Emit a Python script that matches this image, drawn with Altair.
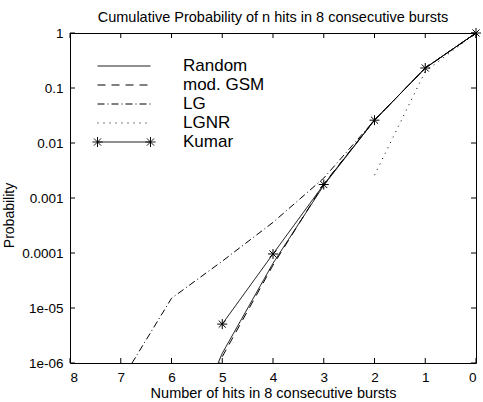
import altair as alt
import pandas as pd

# ---------------- data ----------------
hits = [0, 1, 2, 3, 4, 5, 6, 7, 8]
random_p = [1.0, 0.23, 0.026, 0.0017, 6.5e-5, 1.5e-6, 1e-8, 5e-11, 1e-13]
gsm_p = [1.0, 0.23, 0.026, 0.0018, 6.0e-5, 1.3e-6, 8e-9, 4e-11, 1e-13]
lg_p = [1.0, 0.23, 0.026, 0.0023, 3.6e-4, 7.1e-5, 1.5e-5, 4.6e-7, 1e-8]
lgnr_hits = [0, 1, 2]
lgnr_p = [1.0, 0.2, 0.0026]
kumar_hits = [0, 1, 2, 3, 4, 5]
kumar_p = [1.0, 0.231, 0.026, 0.00176, 9.6e-5, 5.1e-6]

series = ["Random", "mod. GSM", "LG", "LGNR", "Kumar"]
x_ticks = [0, 1, 2, 3, 4, 5, 6, 7, 8]
y_ticks = [1, 0.1, 0.01, 0.001, 0.0001, 1e-05, 1e-06]
y_labels = ["1", "0.1", "0.01", "0.001", "0.0001", "1e-05", "1e-06"]

title = "Cumulative Probability of n hits in 8 consecutive bursts"
x_title = "Number of hits in 8 consecutive bursts"
y_title = "Probability"

# ---------------- tables ----------------
rows = []
for name, xs, ys in [("Random", hits, random_p), ("mod. GSM", hits, gsm_p),
                     ("LG", hits, lg_p), ("LGNR", lgnr_hits, lgnr_p),
                     ("Kumar", kumar_hits, kumar_p)]:
    for xv, yv in zip(xs, ys):
        rows.append({"series": name, "hits": xv, "prob": yv})
df = pd.DataFrame(rows)
kumar_df = df[df.series == "Kumar"]
xt = pd.DataFrame({"hits": x_ticks})
yt = pd.DataFrame({"prob": y_ticks})

# ---------------- styles ----------------
FONT = "Liberation Sans"
W, H = 406, 330
dashes = [[1, 0], [8, 6], [7, 3, 1, 3], [1, 5], [1, 0]]
ast = "M{a},0H{b}M{c},-{s}V{s}M{d1},-{e}L{d2},{e}M{d1},{e}L{d2},-{e}"
def asterisk(cx, s):
    e = round(s * 0.7071, 4)
    return ast.format(a=cx - s, b=cx + s, c=cx, s=s, d1=cx - e, d2=cx + e, e=e)
plain = "M-1,0H1"
kumar_leg = plain + asterisk(-1, 0.19) + asterisk(1, 0.19)
legend_paths = [plain, plain, plain, plain, kumar_leg]
star_path = asterisk(0, 1)

label_expr = ""
for v, l in zip(y_ticks, y_labels):
    label_expr += f"datum.value >= {v / 2} ? '{l}' : "
label_expr += "''"

xscale = alt.Scale(domain=[0, 8], reverse=True, nice=False)
yscale = alt.Scale(type="log", domain=[1e-6, 1], nice=False)

x_axis = alt.Axis(values=x_ticks, title=x_title, ticks=False, domain=False,
                  grid=False, labelPadding=7, labelFontSize=13.5, labelFont=FONT,
                  labelColor="black", titleFont=FONT, titleFontSize=14.5,
                  titleFontWeight="normal", titleColor="black",
                  titleY=34, titleBaseline="alphabetic")
y_axis = alt.Axis(values=y_ticks, labelExpr=label_expr, title=y_title,
                  ticks=False, domain=False, grid=False, labelPadding=7,
                  labelFontSize=13.5, labelFont=FONT, labelColor="black",
                  titleFont=FONT, titleFontSize=14, titleFontWeight="normal",
                  titleColor="black", titleAngle=270, titleX=-61,
                  titleY=182, titleAlign="center", titleBaseline="middle")

def X():
    return alt.X("hits:Q", scale=xscale, axis=x_axis)
def Y():
    return alt.Y("prob:Q", scale=yscale, axis=y_axis)

legend_props = dict(title=None, orient="none", legendX=21, legendY=25,
                    symbolSize=2809, symbolOffset=6, labelFontSize=17, labelFont=FONT,
                    labelColor="black", labelOffset=32, padding=0,
                    clipHeight=16, rowPadding=2, symbolStrokeWidth=1,
                    symbolStrokeColor="black")

def dash_enc():
    return alt.StrokeDash("series:N", scale=alt.Scale(domain=series, range=dashes),
                          legend=alt.Legend(**legend_props))

lines = alt.Chart(df).mark_line(color="black", strokeWidth=1, clip=True).encode(
    x=X(), y=Y(), strokeDash=dash_enc(), detail="series:N",
)

points = alt.Chart(kumar_df).mark_point(shape=star_path, size=100, filled=False,
                                         color="black", strokeWidth=1, opacity=1).encode(
    x=X(), y=Y(),
)

legend_layer = alt.Chart(df).transform_filter("datum.prob < 0").mark_point(
    filled=False, color="black", strokeWidth=1, opacity=1).encode(
    x=X(), y=Y(),
    shape=alt.Shape("series:N", scale=alt.Scale(domain=series, range=legend_paths),
                    legend=alt.Legend(**legend_props)),
    strokeDash=dash_enc(),
)

tick_len = 5
bottom_ticks = alt.Chart(xt).mark_rule(color="black", strokeWidth=1).encode(
    x=X(), y=alt.value(H), y2=alt.value(H - tick_len))
top_ticks = alt.Chart(xt).mark_rule(color="black", strokeWidth=1).encode(
    x=X(), y=alt.value(0), y2=alt.value(tick_len))
left_ticks = alt.Chart(yt).mark_rule(color="black", strokeWidth=1).encode(
    y=Y(), x=alt.value(0), x2=alt.value(tick_len))
right_ticks = alt.Chart(yt).mark_rule(color="black", strokeWidth=1).encode(
    y=Y(), x=alt.value(W), x2=alt.value(W - tick_len))

chart = alt.layer(lines, points, legend_layer, bottom_ticks, top_ticks, left_ticks,
                  right_ticks).properties(
    width=W, height=H,
    title=alt.TitleParams(title, font=FONT, fontSize=14.5, fontWeight="normal",
                          color="black", anchor="middle", frame="group",
                          baseline="alphabetic", offset=-10),
    autosize=alt.AutoSizeParams(type="none"),
    padding={"left": 70, "top": 33, "right": 7, "bottom": 39},
    background="white",
).configure_view(stroke="black", strokeWidth=1)

chart.save("out.html", embed_options={"renderer": "svg", "actions": False})
